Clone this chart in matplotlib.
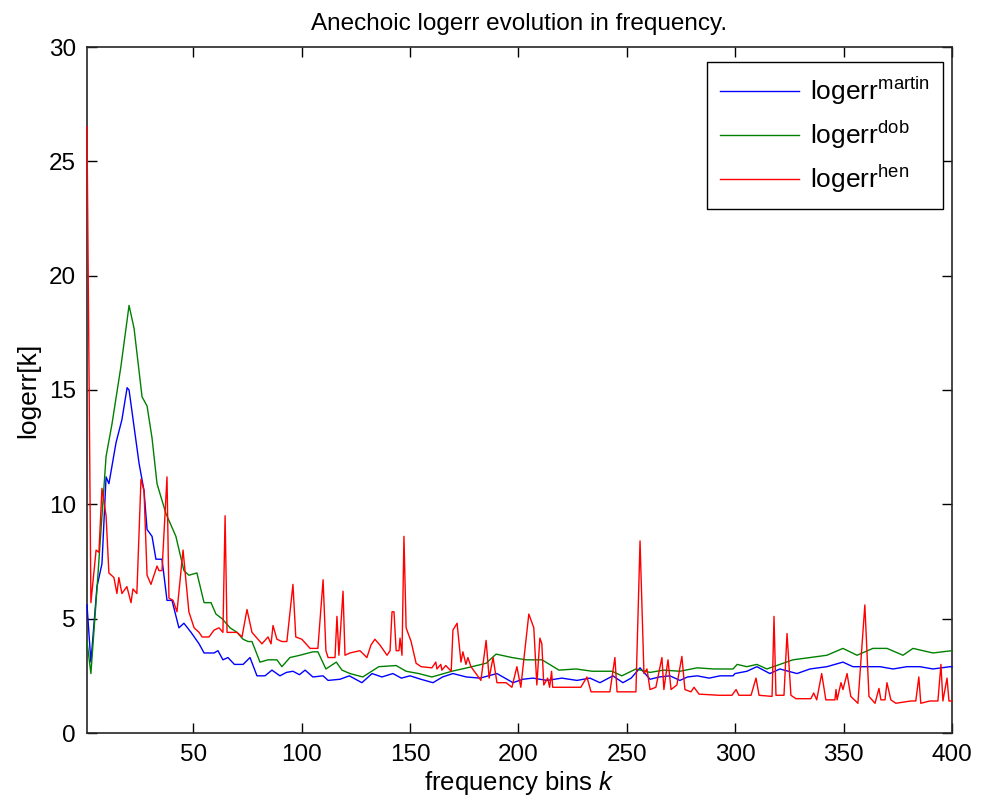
import matplotlib
matplotlib.use("Agg")
import matplotlib.pyplot as plt

plt.rcParams['font.family'] = ['Liberation Sans', 'DejaVu Sans']
plt.rcParams['mathtext.fontset'] = 'custom'
plt.rcParams['mathtext.rm'] = 'Liberation Sans'
plt.rcParams['mathtext.it'] = 'Liberation Sans:italic'

# logerr^martin
martin_k = [1, 2.8, 5.6, 7.9, 9.8, 11.1, 14.4, 17.1, 19.5, 20.4, 22.7, 25, 27.3, 28.7, 31,
            32.8, 35.6, 37.9, 40.2, 43.4, 45.7, 49, 52.7, 55, 59.6, 61.4, 63.7, 66, 69, 73,
            76.2, 79.4, 83.1, 86.3, 90, 93, 96, 99, 101.6, 105.2, 109.9, 112.2, 117.7, 122,
            127.8, 132.5, 137, 142.1, 146, 150, 155, 160.6, 165, 169.8, 176, 182.3, 190.1,
            197.5, 202, 206.7, 213.2, 220, 227, 233, 237.6, 243.6, 248.2, 252, 256.1, 260.7,
            265, 269.9, 274.5, 278, 282.4, 288, 293, 299, 299.9, 305.4, 310, 316, 320.6,
            328.5, 334.5, 342.3, 349.7, 354.3, 361.2, 366.8, 372.8, 379.2, 385.2, 391.2,
            399.1, 400]
martin_v = [5.6, 3.1, 6.4, 7.4, 11.2, 10.9, 12.7, 13.7, 15.1, 15.0, 13.4, 11.8, 10.6, 8.9, 8.6,
            7.6, 7.6, 5.8, 5.8, 4.6, 4.8, 4.4, 3.9, 3.5, 3.5, 3.6, 3.2, 3.3, 3.0, 3.0,
            3.3, 2.5, 2.5, 2.75, 2.5, 2.65, 2.7, 2.55, 2.75, 2.45, 2.5, 2.3, 2.35, 2.5,
            2.2, 2.6, 2.45, 2.6, 2.4, 2.5, 2.35, 2.2, 2.45, 2.6, 2.45, 2.4, 2.6,
            2.2, 2.35, 2.4, 2.3, 2.4, 2.3, 2.4, 2.2, 2.5, 2.2, 2.4, 2.85, 2.35,
            2.45, 2.5, 2.3, 2.45, 2.5, 2.4, 2.5, 2.5, 2.6, 2.7, 2.9, 2.6, 2.8,
            2.6, 2.8, 2.9, 3.1, 2.9, 2.9, 2.9, 2.8, 2.9, 2.9, 2.8,
            2.9, 2.9]

# logerr^dob
dob_k = [1, 2.8, 5.6, 7.9, 9.8, 12.5, 16.6, 20.4, 22.7, 26.4, 28.7, 31, 33.3, 37.4, 42, 45.7,
         48, 51.7, 55, 58.2, 60.5, 63.3, 67, 70.2, 73, 75.3, 77.1, 80.8, 84.5, 88.6, 90.9,
         94.6, 99.2, 105.2, 107.5, 111.2, 116, 118.6, 122.3, 128.2, 135.6, 143.6, 148.2,
         154, 160.1, 169.3, 178.6, 185.1, 189.7, 197, 203.5, 210.9, 218.7, 226.6, 234,
         243.2, 247.7, 254.2, 260.7, 267, 274.5, 282.4, 290, 299, 300.9, 305.4, 310, 314.6,
         320.6, 326.6, 334.5, 342.3, 349.7, 356.2, 363.5, 370, 377.4, 382, 391.2, 400]
dob_v = [4.0, 2.6, 6.3, 9.5, 12.1, 13.5, 16.0, 18.7, 17.7, 14.7, 14.3, 12.9, 10.9, 9.6, 8.6, 7.1,
         6.9, 7.0, 5.7, 5.7, 5.2, 5.0, 4.6, 4.4, 4.1, 4.0, 4.0, 3.1, 3.2, 3.2, 2.9,
         3.3, 3.4, 3.55, 3.55, 2.8, 3.1, 2.75, 2.6, 2.45, 2.9, 2.95, 2.7,
         2.6, 2.45, 2.7, 2.9, 3.05, 3.45, 3.3, 3.2, 3.2, 2.75, 2.8, 2.7,
         2.7, 2.5, 2.8, 2.65, 2.75, 2.7, 2.85, 2.8, 2.8, 3.0, 2.9, 3.0, 2.8,
         3.0, 3.2, 3.3, 3.4, 3.7, 3.4, 3.7, 3.7, 3.4, 3.7, 3.5, 3.6]

# logerr^hen
hen_k = [1, 2.8, 5.2, 6.5, 7.9, 9.8, 11.1, 13.4, 14.8, 15.7, 17.1, 19.4, 21.3, 22.2, 24, 25.9,
         27.3, 28.7, 30.5, 33.3, 34.2, 35.6, 37.9, 38.8, 40.7, 42.5, 45.3, 48, 50.4, 52.7,
         54.1, 57.3, 59.6, 61.9, 63.7, 64.7, 65.6, 70.2, 72.5, 74.8, 77.1, 81.7, 84.5,
         85.9, 86.8, 88.6, 90.9, 93.2, 96, 97.3, 100.1, 103.9, 107.5, 109.9, 111.2, 112.2,
         115.4, 116.3, 117.2, 119.1, 120, 122.3, 126.9, 130.1, 132, 133.8, 136.1, 139.4,
         140.8, 141.7, 142.6, 143.6, 144.9, 145.4, 146.3, 147.2, 148.2, 150.5, 152.8, 155.1,
         160.1, 161.9, 162.4, 164.2, 164.7, 166.5, 169, 169.8, 171.7, 173.5, 174.4, 175.8,
         176.7, 178.1, 182.7, 185.1, 186.5, 188.3, 190.1, 194.3, 197, 199.3, 201.1, 204.8,
         207.1, 208.5, 209.9, 210.8, 211.7, 213.5, 214.4, 215.3, 215.8, 218.7, 228.8, 231.6,
         233.5, 242.2, 244.5, 245.5, 254.2, 256.1, 257.9, 259.3, 260.7, 263.4, 266.2, 267.1,
         269, 270.4, 273.1, 275.4, 276.8, 279.6, 281, 283.3, 292.5, 298.5, 300.4, 301.7,
         307.3, 309.6, 311, 317, 317.9, 318.8, 322.5, 323.9, 325.7, 328, 334.9, 336.2,
         337.6, 339.9, 341.8, 346, 346.5, 347, 348.8, 349.7, 351.6, 353.3, 356.6, 359.8,
         361.7, 364.5, 366.3, 367.2, 369.1, 370, 371.8, 374.1, 381, 383.3, 384.7, 385.6,
         389.8, 393.5, 394.9, 395.8, 397.7, 398.6, 400]
hen_v = [26.5, 5.7, 8.0, 7.9, 10.7, 9.5, 7.0, 6.8, 6.1, 6.8, 6.1, 6.4, 5.7, 6.3, 6.1, 11.1,
         10.6, 6.9, 6.5, 7.3, 7.1, 7.1, 11.2, 5.9, 5.8, 5.3, 8.0, 5.3, 4.6, 4.4,
         4.2, 4.2, 4.5, 4.6, 4.4, 9.5, 4.4, 4.4, 4.2, 5.4, 4.4, 3.9, 4.2,
         3.9, 4.7, 4.1, 4.0, 4.0, 6.5, 4.2, 4.1, 3.7, 3.7, 6.7, 3.6, 3.3,
         3.3, 5.1, 3.4, 6.2, 3.4, 3.5, 3.6, 3.3, 3.85, 4.1, 3.85, 3.4,
         3.6, 5.3, 5.3, 3.6, 3.6, 4.15, 3.4, 8.6, 4.6, 4.0, 3.05, 2.9,
         2.85, 3.1, 2.8, 3.0, 2.75, 2.95, 2.7, 4.5, 4.8, 3.1, 3.55, 3.0,
         3.3, 2.9, 2.3, 4.05, 2.4, 3.3, 2.2, 2.2, 2.0, 2.9, 2.0, 5.2,
         4.6, 2.1, 4.15, 3.9, 2.1, 2.4, 2.0, 2.7, 2.0, 2.0, 2.0, 2.45,
         1.8, 1.8, 3.3, 1.8, 1.8, 8.4, 2.6, 2.8, 1.9, 2.0, 3.3, 1.9,
         3.2, 1.9, 2.1, 3.35, 1.9, 1.8, 2.0, 1.7, 1.65, 1.65, 1.9, 1.65,
         1.65, 2.4, 1.65, 1.6, 5.1, 1.65, 1.65, 4.35, 1.65, 1.5, 1.5, 1.75,
         1.45, 2.6, 1.45, 1.45, 1.9, 1.45, 2.2, 1.9, 2.6, 1.6, 1.3, 5.6,
         1.6, 1.3, 1.95, 1.45, 1.45, 2.2, 1.45, 1.3, 1.4, 1.4, 2.45, 1.3,
         1.4, 1.4, 3.0, 1.4, 2.4, 1.4, 1.4]

x_ticks = [50, 100, 150, 200, 250, 300, 350, 400]
y_ticks = [0, 5, 10, 15, 20, 25, 30]

fig = plt.figure(figsize=(9.82, 8.10), dpi=100)
ax = fig.add_axes([87 / 982, 1 - 733 / 810, 865 / 982, 686 / 810])

# lines drawn over the axes box, like the original
ax.plot(martin_k, martin_v, color='#0000ff', lw=1.0, zorder=3, clip_on=False,
        label='logerr$^{\\mathrm{martin}}$')
ax.plot(dob_k, dob_v, color='#008000', lw=1.0, zorder=3, clip_on=False,
        label='logerr$^{\\mathrm{dob}}$')
ax.plot(hen_k, hen_v, color='#ff0000', lw=1.0, zorder=3, clip_on=False,
        label='logerr$^{\\mathrm{hen}}$')

ax.set_xlim(1, 400)
ax.set_ylim(0, 30)
ax.set_xticks(x_ticks)
ax.set_yticks(y_ticks)
ax.tick_params(direction='in', length=7, width=1, top=True, right=True,
               labelsize=17.5, pad=8)
for s in ax.spines.values():
    s.set_linewidth(1.2)
    s.set_color('#262626')

ax.set_title('Anechoic logerr evolution in frequency.', fontsize=17.5, pad=12)
ax.set_xlabel('frequency bins $k$', fontsize=18.5, labelpad=2)
ax.set_ylabel('logerr[k]', fontsize=19, labelpad=6)

leg = ax.legend(loc='upper right', bbox_to_anchor=(0.9896, 0.978), borderaxespad=0,
                fontsize=19, frameon=True, fancybox=False, framealpha=1,
                edgecolor='black', handlelength=3.0, labelspacing=0.45,
                borderpad=0.5, handletextpad=0.4)
leg.get_frame().set_linewidth(1.0)
leg.set_zorder(5)

plt.savefig('out.png', dpi=100)
plt.close()
